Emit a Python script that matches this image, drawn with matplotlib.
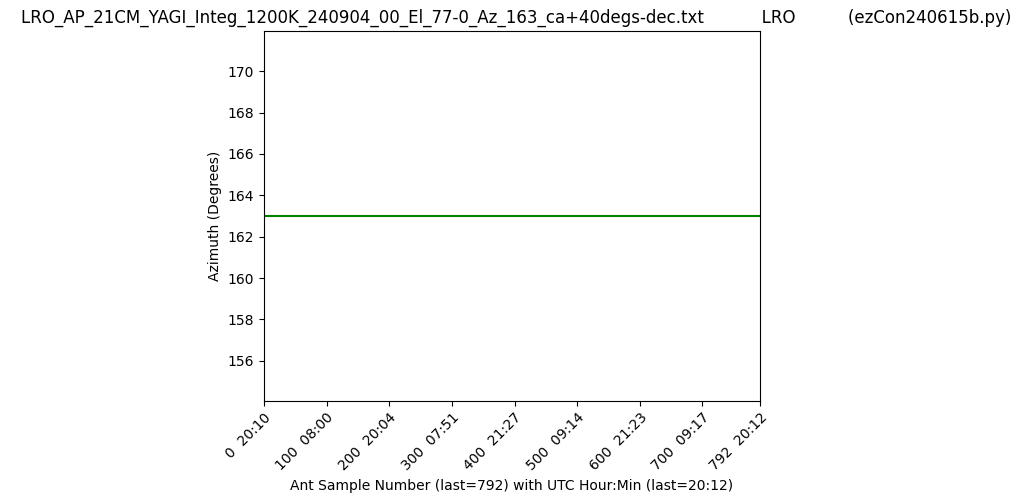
import numpy as np
import matplotlib
matplotlib.use("Agg")
import matplotlib.pyplot as plt

# ---------------------------------------------------------------------------
# Data
# ---------------------------------------------------------------------------

last_sample = 792
azimuth_deg = 163.0

sample_numbers = np.arange(last_sample + 1)
azimuth = np.full(sample_numbers.size, azimuth_deg)

tick_samples = [0, 100, 200, 300, 400, 500, 600, 700, 792]
tick_utc = ["20:10", "08:00", "20:04", "07:51", "21:27",
            "09:14", "21:23", "09:17", "20:12"]

title_file = "LRO_AP_21CM_YAGI_Integ_1200K_240904_00_El_77-0_Az_163_ca+40degs-dec.txt"
title_site = "LRO"
title_prog = "(ezCon240615b.py)"

# ---------------------------------------------------------------------------
# Figure
# ---------------------------------------------------------------------------

fig = plt.figure(figsize=(10.24, 5.03), dpi=100)
ax = fig.add_axes([264 / 1024, 1 - 401 / 503, (760 - 264) / 1024, (401 - 31) / 503])

ax.plot(sample_numbers, azimuth, color="green", linewidth=1.5)

ax.set_xlim(0, last_sample)
ax.set_ylim(154.05, 171.95)

ax.set_xticks(tick_samples)
ax.set_xticklabels([f"{s}  {t}" for s, t in zip(tick_samples, tick_utc)],
                   rotation=45, ha="right", rotation_mode="anchor")

ax.set_xlabel(f"Ant Sample Number (last={last_sample}) with UTC Hour:Min "
              f"(last={tick_utc[-1]})")
ax.set_ylabel("Azimuth (Degrees)")
ax.set_title(f"{title_file}" + " " * 11 + title_site + " " * 10 + title_prog,
             fontsize=12, x=0.508)

fig.savefig("out.png", dpi=100)
